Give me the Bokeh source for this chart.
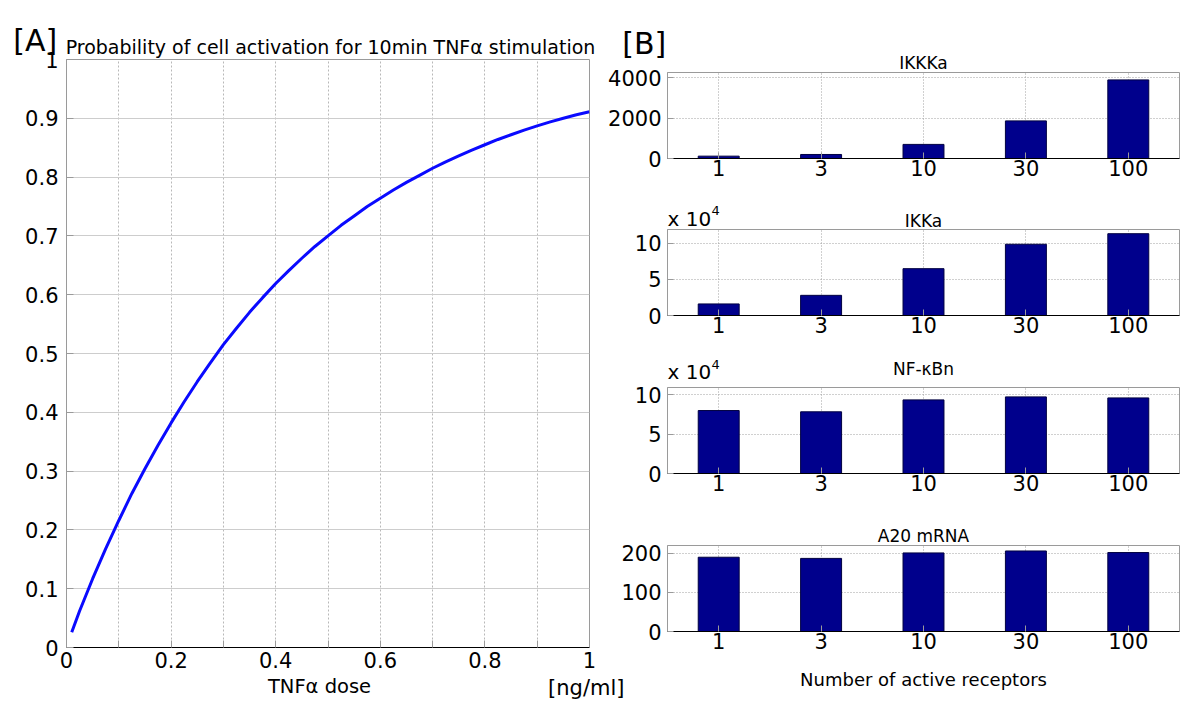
from bokeh.plotting import figure
from bokeh.models import (FixedTicker, CustomJSTickFormatter, FactorRange, Range1d)
from bokeh.core.properties import value
from bokeh.layouts import row, column
from bokeh.embed import file_html
from bokeh.resources import INLINE

FONT = "DejaVu Sans"
GRAY = "#9a9a9a"
BAR = "#00008c"

# ---------------- data ----------------
dose = [0.01, 0.025, 0.05, 0.075, 0.1, 0.125, 0.15, 0.175, 0.2, 0.225, 0.25, 0.275,
        0.3, 0.325, 0.35, 0.375, 0.4, 0.425, 0.45, 0.475, 0.5, 0.525, 0.55, 0.575,
        0.6, 0.625, 0.65, 0.675, 0.7, 0.725, 0.75, 0.775, 0.8, 0.825, 0.85, 0.875,
        0.9, 0.925, 0.95, 0.975, 1.0]
p_act = [0.026, 0.062, 0.117, 0.168, 0.216, 0.262, 0.304, 0.344, 0.382, 0.418, 0.452,
         0.484, 0.515, 0.543, 0.570, 0.595, 0.619, 0.641, 0.662, 0.682, 0.700, 0.718,
         0.734, 0.750, 0.764, 0.778, 0.791, 0.803, 0.815, 0.826, 0.836, 0.846, 0.855,
         0.864, 0.872, 0.880, 0.887, 0.894, 0.900, 0.906, 0.911]
x_ticks_a = [0, 0.2, 0.4, 0.6, 0.8, 1]
x_minor_a = [0.1, 0.3, 0.5, 0.7, 0.9]
y_ticks_a = [0, 0.1, 0.2, 0.3, 0.4, 0.5, 0.6, 0.7, 0.8, 0.9, 1]

receptors = ["1", "3", "10", "30", "100"]
ikkka = [116, 199, 697, 1859, 3884]
ikka = [1.60, 2.79, 6.48, 9.86, 11.32]      # x 10^4
nfkbn = [7.98, 7.82, 9.33, 9.71, 9.58]      # x 10^4
a20_mrna = [190, 187, 201, 206, 202]
bar_titles = ["IKKKa", "IKKa", "NF-\u03baBn", "A20 mRNA"]
bar_ymax = [4250, 11.9, 10.9, 220]
bar_yticks = [[0, 2000, 4000], [0, 5, 10], [0, 5, 10], [0, 100, 200]]

fmt = "return String(tick);"

# ---------------- panel A ----------------
WA, HA = 640, 714
A_L, A_T, A_FW, A_FH = 66, 59, 523, 588

pa = figure(width=WA, height=HA, x_range=Range1d(0, 1), y_range=Range1d(0, 1),
            output_backend="svg", toolbar_location=None, title=None,
            min_border_left=A_L, min_border_top=A_T,
            min_border_right=WA - A_L - A_FW, min_border_bottom=HA - A_T - A_FH,
            margin=(0, -40, 0, 0), outline_line_color=GRAY)

pa.xaxis.ticker = FixedTicker(ticks=x_ticks_a, minor_ticks=x_minor_a)
pa.yaxis.ticker = FixedTicker(ticks=y_ticks_a)
for a in (pa.xaxis[0], pa.yaxis[0]):
    a.formatter = CustomJSTickFormatter(code=fmt)
    a.major_tick_in = 7
    a.major_tick_out = 0
    a.minor_tick_in = 7
    a.minor_tick_out = 0
    a.major_tick_line_color = GRAY
    a.minor_tick_line_color = GRAY
    a.major_label_text_font = FONT
    a.major_label_text_font_size = "21px"
    a.major_label_text_color = "black"
pa.yaxis.minor_tick_in = 0
pa.xaxis.axis_line_color = "black"
pa.xaxis.major_label_standoff = 4
pa.yaxis.axis_line_color = GRAY
pa.yaxis.major_label_standoff = 8

pa.xgrid.grid_line_color = "#b8b8b8"
pa.xgrid.grid_line_dash = "2 2"
pa.xgrid.minor_grid_line_color = "#b8b8b8"
pa.xgrid.minor_grid_line_dash = "2 2"
pa.ygrid.grid_line_color = "#cdcdcd"
pa.ygrid.grid_line_dash = "solid"

pa.line(dose, p_act, line_color="#0a0aff", line_width=3)

# ---------------- panel B ----------------
WB = 598
B_L, B_FW, B_FH = 67, 512, 86
heights = [197, 152, 163, 202]
tops = [72, 32, 38, 33]
series = [ikkka, ikka, nfkbn, a20_mrna]

figs = []
for i in range(4):
    H, T = heights[i], tops[i]
    p = figure(width=WB, height=H, x_range=FactorRange(factors=receptors),
               y_range=Range1d(0, bar_ymax[i]), output_backend="svg", toolbar_location=None,
               title=None, min_border_left=B_L, min_border_right=WB - B_L - B_FW,
               min_border_top=T, min_border_bottom=H - T - B_FH,
               border_fill_alpha=0, outline_line_color=GRAY)

    p.vbar(x=receptors, top=series[i], width=0.4, fill_color=BAR,
           line_color="#000040", line_width=1)

    xa = p.xaxis[0]
    xa.major_tick_in = 6
    xa.major_tick_out = 0
    xa.major_tick_line_color = GRAY
    xa.axis_line_color = "black"
    xa.major_label_text_font = FONT
    xa.major_label_text_font_size = "21px"
    xa.major_label_text_color = "black"
    xa.major_label_standoff = 1

    ya = p.yaxis[0]
    ya.ticker = FixedTicker(ticks=bar_yticks[i])
    ya.formatter = CustomJSTickFormatter(code=fmt)
    ya.major_tick_in = 6
    ya.major_tick_out = 0
    ya.minor_tick_in = 0
    ya.minor_tick_out = 0
    ya.major_tick_line_color = GRAY
    ya.axis_line_color = GRAY
    ya.major_label_text_font = FONT
    ya.major_label_text_font_size = "21px"
    ya.major_label_text_color = "black"
    ya.major_label_standoff = 6

    p.xgrid.grid_line_color = "#a0a0a0"
    p.xgrid.grid_line_dash = "1 2"
    p.ygrid.grid_line_color = "#a0a0a0"
    p.ygrid.grid_line_dash = "1 2"
    figs.append(p)

# ---------------- text overlay (page pixel coordinates) ----------------
OW, OH = 1198, 714
ov = figure(width=OW, height=OH, x_range=Range1d(0, OW), y_range=Range1d(OH, 0),
            output_backend="svg", toolbar_location=None, title=None,
            x_axis_location=None, y_axis_location=None, min_border=0,
            background_fill_alpha=0, border_fill_alpha=0, outline_line_color=None,
            margin=(-OH, 0, 0, 0))
for g in ov.grid:
    g.visible = False


def put(x, y, txt, size, align="left", base="alphabetic"):
    ov.text(x=[x], y=[y], text=[txt], text_font=value(FONT), text_font_size=size,
            text_align=align, text_baseline=base, text_color="black")


put(12.7, 40, "[A]", "30px")
put(621.7, 43, "[B]", "30px")
put(330, 46.7, "Probability of cell activation for 10min TNF\u03b1 stimulation", "19px", "center")
put(319, 686, "TNF\u03b1 dose", "19.5px", "center", "middle")
put(624, 687, "[ng/ml]", "21px", "right", "middle")

BX_C = 600 + B_L + B_FW / 2
title_base = [62.3, 220.7, 368.3, 535]
for t, b in zip(bar_titles, title_base):
    put(BX_C, b, t, "17px", "center")
for b in (218.3, 371.7):
    put(667, b, "x 10", "20px")
    put(711, b - 8, "4", "13px")
put(BX_C, 679, "Number of active receptors", "18px", "center", "middle")

layout = column(row(pa, column(*figs, spacing=0), spacing=0), ov, spacing=0)
open("out.html", "w").write(file_html(layout, INLINE, title="chart"))
